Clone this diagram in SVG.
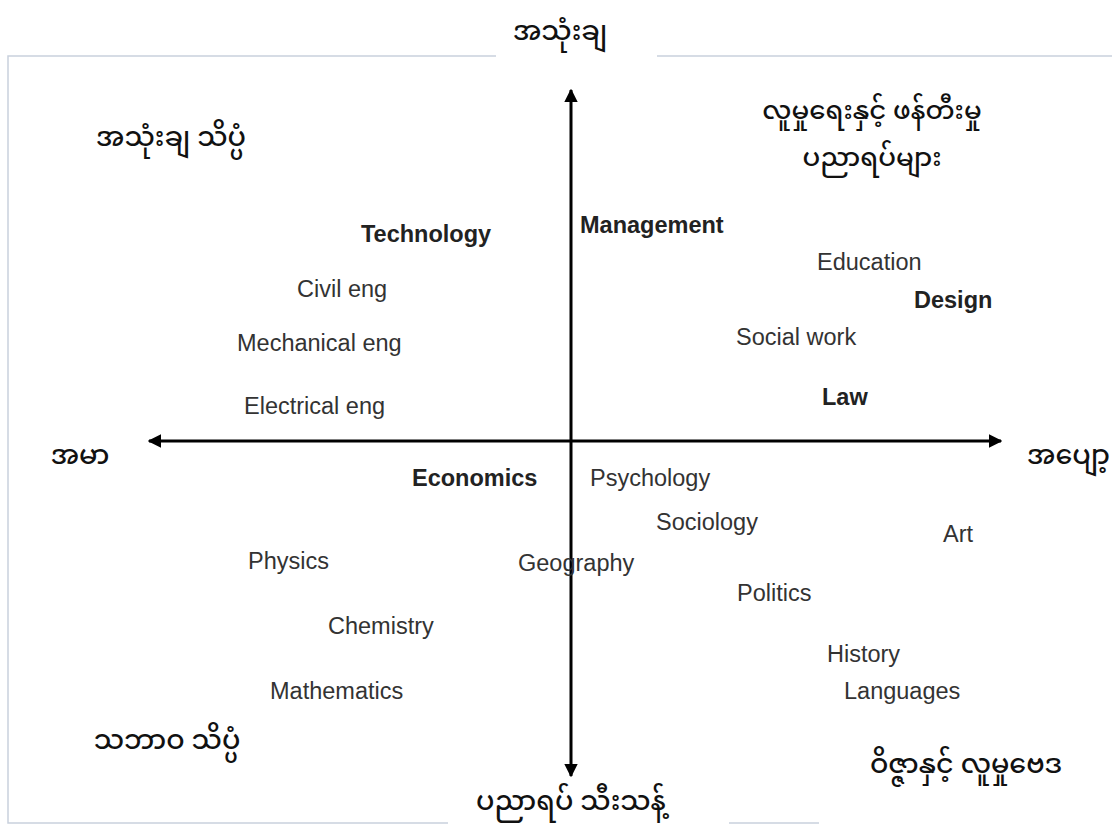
<svg xmlns="http://www.w3.org/2000/svg" width="1112" height="833" viewBox="0 0 1112 833">
<style>
.frame{stroke:#c9d1dd;stroke-width:1.5;fill:none}
.axis{stroke:#000;stroke-width:3;fill:none}
.lbl{font-family:"Liberation Sans",Arial,sans-serif;font-size:23.5px;fill:#333}
.b{font-weight:bold;fill:#222}
.my{font-family:"Noto Sans Myanmar","Padauk","Myanmar Text","Noto Sans",sans-serif;font-size:27px;font-weight:500;fill:#111;text-anchor:middle}
</style>
<defs>
<marker id="ah" viewBox="0 0 10 10" refX="9" refY="5" markerWidth="4.5" markerHeight="4.5" orient="auto" markerUnits="strokeWidth">
<path d="M0,0 L10,5 L0,10 z" fill="#000"/>
</marker>
</defs>
<rect width="1112" height="833" fill="#fff"/>
<g id="frame">
<path class="frame" d="M496,56 H8 V823 H448 M657,56 H1112 M729,823 H819"/>
</g>
<g id="connectors">
<line class="axis" x1="571" y1="440" x2="571" y2="90" marker-end="url(#ah)"/>
<line class="axis" x1="571" y1="440" x2="571" y2="776" marker-end="url(#ah)"/>
<line class="axis" x1="571" y1="441" x2="149" y2="441" marker-end="url(#ah)"/>
<line class="axis" x1="571" y1="441" x2="1001" y2="441" marker-end="url(#ah)"/>
</g>
<g id="axis-labels">
<text id="top" class="my" x="560" y="40">အသုံးချ</text>
<text id="bottom" class="my" x="571" y="810">ပညာရပ် သီးသန့်</text>
<text id="left" class="my" x="80" y="464">အမာ</text>
<text id="right" class="my" x="1110" y="464" style="text-anchor:end">အပျော့</text>
</g>
<g id="quadrant-labels">
<text id="q1" class="my" x="171" y="146">အသုံးချ သိပ္ပံ</text>
<text id="q2" class="my" style="font-size:26px"><tspan x="872" y="119">လူမှုရေးနှင့် ဖန်တီးမှု</tspan><tspan x="872" y="166">ပညာရပ်များ</tspan></text>
<text id="q3" class="my" x="167" y="749">သဘာဝ သိပ္ပံ</text>
<text id="q4" class="my" x="966" y="773">ဝိဇ္ဇာနှင့် လူမှုဗေဒ</text>
</g>
<g id="subjects">
<text id="technology" class="lbl b" x="361" y="242">Technology</text>
<text id="management" class="lbl b" x="580" y="233">Management</text>
<text id="civil" class="lbl" x="297" y="297">Civil eng</text>
<text id="mech" class="lbl" x="237" y="351">Mechanical eng</text>
<text id="elec" class="lbl" x="244" y="414">Electrical eng</text>
<text id="education" class="lbl" x="817" y="270">Education</text>
<text id="design" class="lbl b" x="914" y="308">Design</text>
<text id="social" class="lbl" x="736" y="345">Social work</text>
<text id="law" class="lbl b" x="822" y="405">Law</text>
<text id="economics" class="lbl b" x="412" y="486">Economics</text>
<text id="psychology" class="lbl" x="590" y="486">Psychology</text>
<text id="sociology" class="lbl" x="656" y="530">Sociology</text>
<text id="art" class="lbl" x="943" y="542">Art</text>
<text id="physics" class="lbl" x="248" y="569">Physics</text>
<text id="geography" class="lbl" x="518" y="571">Geography</text>
<text id="politics" class="lbl" x="737" y="601">Politics</text>
<text id="chemistry" class="lbl" x="328" y="634">Chemistry</text>
<text id="history" class="lbl" x="827" y="662">History</text>
<text id="mathematics" class="lbl" x="270" y="699">Mathematics</text>
<text id="languages" class="lbl" x="844" y="699">Languages</text>
</g>
</svg>
